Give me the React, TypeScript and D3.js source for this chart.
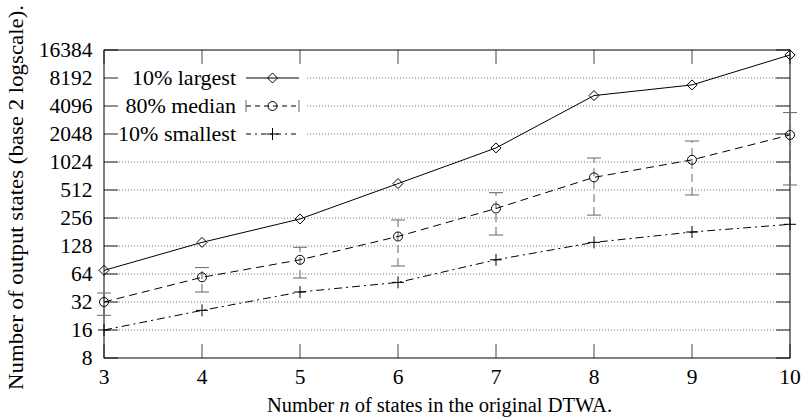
import * as d3 from "d3";

// number n of states
const nValues = [3, 4, 5, 6, 7, 8, 9, 10];
const largest = [70, 140, 250, 600, 1450, 5300, 6900, 14500];
const median = [32, 59, 91, 162, 324, 700, 1080, 2000];
const medianLow = [23, 41, 58, 78, 168, 275, 453, 580];
const medianHigh = [40, 75, 124, 244, 479, 1131, 1722, 3480];
const smallest = [16, 26, 41, 52, 91, 140, 181, 219];
const yTicks = [8, 16, 32, 64, 128, 256, 512, 1024, 2048, 4096, 8192, 16384];
const legendLabels = ["10% largest", "80% median", "10% smallest"];

const W = 806;
const H = 417;
const left = 104;
const right = 790;
const top = 50;
const bottom = 358;
const font = "'Liberation Serif', 'Times New Roman', serif";
const ts = { fontFamily: font };

const App = () => {
  const x = d3.scaleLinear().domain([3, 10]).range([left, right]);
  const y = d3.scaleLog().base(2).domain([8, 16384]).range([bottom, top]);

  const line = (vals: number[]) =>
    d3
      .line<number>()
      .x((_, i) => x(nValues[i]))
      .y((d) => y(d))(vals) || "";

  const legendY = [y(8192), y(4096), y(2048)];
  const sx0 = 246;
  const sx1 = 299;
  const smid = (sx0 + sx1) / 2;

  const diamond = (cx: number, cy: number, k: string | number) => (
    <path
      key={k}
      d={`M${cx - 5},${cy}L${cx},${cy - 5}L${cx + 5},${cy}L${cx},${cy + 5}Z`}
      fill="none"
      stroke="#000"
    />
  );
  const circle = (cx: number, cy: number, k: string | number) => (
    <circle key={k} cx={cx} cy={cy} r={4.5} fill="none" stroke="#000" />
  );
  const plus = (cx: number, cy: number, k: string | number) => (
    <path key={k} d={`M${cx - 6},${cy}H${cx + 6}M${cx},${cy - 6}V${cy + 6}`} stroke="#000" />
  );

  return (
    <svg
      width={W}
      height={H}
      style={{ position: "absolute", left: 0, top: 0, background: "#fff", fontFamily: font }}
    >
      {/* grid */}
      {yTicks.slice(1, -1).map((t) => (
        <line
          key={"g" + t}
          x1={t >= 2048 ? 307 : left}
          x2={right}
          y1={y(t)}
          y2={y(t)}
          stroke="#777"
          strokeDasharray="1,2"
        />
      ))}
      {/* ticks */}
      {yTicks.map((t) => (
        <g key={"yt" + t}>
          <line x1={left} x2={left + 14} y1={y(t)} y2={y(t)} stroke="#222" />
          <line x1={right - 14} x2={right} y1={y(t)} y2={y(t)} stroke="#222" />
          <text x={92.5} y={y(t) + 7.3} textAnchor="end" fontSize={21.5} style={ts}>
            {t}
          </text>
        </g>
      ))}
      {nValues.map((n) => (
        <g key={"xt" + n}>
          <line x1={x(n)} x2={x(n)} y1={bottom} y2={bottom - 14} stroke="#444" />
          <line x1={x(n)} x2={x(n)} y1={top} y2={top + 14} stroke="#444" />
          <text x={x(n)} y={384} textAnchor="middle" fontSize={21.5} style={ts}>
            {n}
          </text>
        </g>
      ))}
      <rect x={left} y={top} width={right - left} height={bottom - top} fill="none" stroke="#000" />

      {/* error bars */}
      {nValues.map((n, i) => (
        <g key={"eb" + n} stroke="#666">
          <line
            x1={x(n)}
            x2={x(n)}
            y1={y(medianLow[i])}
            y2={y(medianHigh[i])}
            strokeDasharray="8,5"
          />
          <line x1={x(n) - 7} x2={x(n) + 7} y1={y(medianLow[i])} y2={y(medianLow[i])} />
          <line x1={x(n) - 7} x2={x(n) + 7} y1={y(medianHigh[i])} y2={y(medianHigh[i])} />
        </g>
      ))}

      {/* lines */}
      <path d={line(largest)} fill="none" stroke="#000" />
      <path d={line(median)} fill="none" stroke="#000" strokeDasharray="8,5" />
      <path d={line(smallest)} fill="none" stroke="#000" strokeDasharray="8,4,2,4" />
      {largest.map((v, i) => diamond(x(nValues[i]), y(v), "d" + i))}
      {median.map((v, i) => circle(x(nValues[i]), y(v), "c" + i))}
      {smallest.map((v, i) => plus(x(nValues[i]), y(v), "p" + i))}

      {/* legend */}
      {legendLabels.map((l, i) => (
        <text key={l} x={236} y={legendY[i] + 7.3} textAnchor="end" fontSize={22} style={ts}>
          {l}
        </text>
      ))}
      <line x1={sx0} x2={sx1} y1={legendY[0]} y2={legendY[0]} stroke="#000" />
      {diamond(smid, legendY[0], "ld")}
      <line x1={sx0} x2={sx1} y1={legendY[1]} y2={legendY[1]} stroke="#000" strokeDasharray="5,4" />
      <line x1={sx0} x2={sx0} y1={legendY[1] - 6} y2={legendY[1] + 6} stroke="#666" />
      <line x1={sx1} x2={sx1} y1={legendY[1] - 6} y2={legendY[1] + 6} stroke="#666" />
      {circle(smid, legendY[1], "lc")}
      <line x1={sx0} x2={sx1} y1={legendY[2]} y2={legendY[2]} stroke="#000" strokeDasharray="5,4,2,4" />
      {plus(smid, legendY[2], "lp")}

      {/* axis titles */}
      <text x={439.5} y={412} textAnchor="middle" fontSize={20.5} style={ts}>
        Number <tspan fontStyle="italic">n</tspan> of states in the original DTWA.
      </text>
      <text
        transform={`translate(23, 197.5) rotate(-90)`}
        textAnchor="middle"
        fontSize={21.5}
        textLength={385}
        lengthAdjust="spacingAndGlyphs"
        style={ts}
      >
        Number of output states (base 2 logscale).
      </text>
    </svg>
  );
};

export default App;
